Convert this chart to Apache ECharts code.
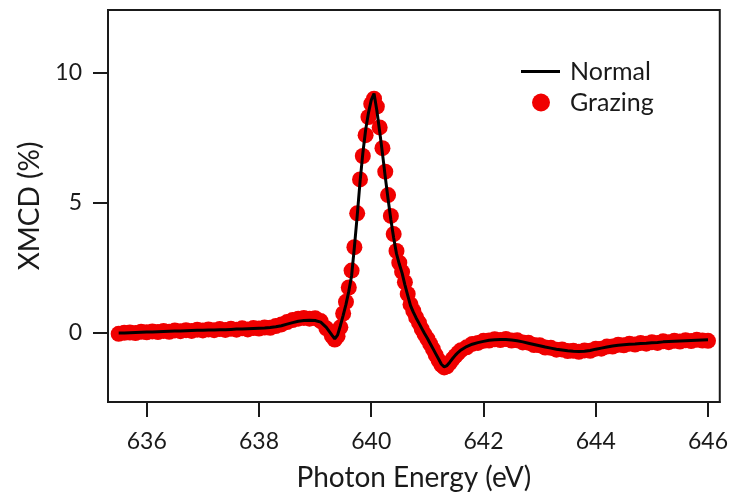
<!DOCTYPE html>
<html>
<head>
<meta charset="utf-8">
<script src="https://cdn.jsdelivr.net/npm/echarts@6/dist/echarts.min.js"></script>
<style>
html,body{margin:0;padding:0;background:#fff;}
#chart{width:731px;height:504px;}
</style>
</head>
<body>
<div id="chart"></div>
<script>
const energy = [
  635.5, 635.6, 635.7, 635.8, 635.9, 636.0, 636.1, 636.2, 636.3, 636.4,
  636.5, 636.6, 636.7, 636.8, 636.9, 637.0, 637.1, 637.2, 637.3, 637.4,
  637.5, 637.6, 637.7, 637.8, 637.9, 638.0, 638.1, 638.2, 638.3, 638.4,
  638.5, 638.6, 638.7, 638.8, 638.9, 639.0, 639.1, 639.2,
  639.3, 639.35, 639.4, 639.45, 639.5, 639.55, 639.6, 639.65, 639.7, 639.75,
  639.8, 639.85, 639.9, 639.95, 640.0, 640.05, 640.1, 640.15, 640.2, 640.25,
  640.3, 640.35, 640.4, 640.45, 640.5, 640.55, 640.6, 640.65, 640.7, 640.75,
  640.8, 640.85, 640.9, 640.95, 641.0, 641.05, 641.1, 641.15, 641.2, 641.25,
  641.3, 641.35, 641.4, 641.45, 641.5, 641.55, 641.6,
  641.7, 641.8, 641.9, 642.0, 642.1, 642.2, 642.3, 642.4, 642.5, 642.6,
  642.7, 642.8, 642.9, 643.0, 643.1, 643.2, 643.3, 643.4, 643.5, 643.6,
  643.7, 643.8, 643.9, 644.0, 644.1, 644.2, 644.3, 644.4, 644.5, 644.6,
  644.7, 644.8, 644.9, 645.0, 645.1, 645.2, 645.3, 645.4, 645.5, 645.6,
  645.7, 645.8, 645.9, 646.0
];
const normal = [
  0.00, 0.00, 0.01, 0.02, 0.03, 0.04, 0.04, 0.05, 0.06, 0.07,
  0.08, 0.08, 0.09, 0.10, 0.11, 0.11, 0.12, 0.12, 0.13, 0.13,
  0.14, 0.15, 0.15, 0.16, 0.17, 0.18, 0.19, 0.21, 0.24, 0.28,
  0.34, 0.40, 0.45, 0.48, 0.49, 0.48, 0.42, 0.22,
  -0.08, -0.22, -0.08, 0.28, 0.68, 1.10, 1.60, 2.20, 3.30, 4.50,
  5.80, 6.90, 7.80, 8.45, 8.95, 9.20, 8.55, 7.75, 6.90, 6.00,
  5.15, 4.35, 3.65, 3.05, 2.65, 2.30, 1.85, 1.45, 1.05, 0.80,
  0.58, 0.38, 0.18, -0.02, -0.20, -0.40, -0.60, -0.80, -1.00, -1.20,
  -1.30, -1.25, -1.12, -0.98, -0.85, -0.74, -0.65,
  -0.52, -0.43, -0.37, -0.32, -0.28, -0.26, -0.25, -0.25, -0.27, -0.30,
  -0.34, -0.39, -0.44, -0.49, -0.54, -0.58, -0.62, -0.65, -0.68, -0.70,
  -0.71, -0.70, -0.67, -0.62, -0.58, -0.54, -0.50, -0.47, -0.45, -0.43,
  -0.42, -0.40, -0.39, -0.37, -0.36, -0.34, -0.33, -0.32, -0.31, -0.30,
  -0.29, -0.28, -0.27, -0.26
];
const grazing = [
  -0.03, 0.01, 0.02, 0.00, 0.05, 0.03, 0.06, 0.04, 0.08, 0.05,
  0.10, 0.07, 0.11, 0.08, 0.13, 0.10, 0.14, 0.11, 0.15, 0.12,
  0.16, 0.13, 0.18, 0.14, 0.19, 0.17, 0.21, 0.20, 0.27, 0.33,
  0.42, 0.50, 0.55, 0.58, 0.55, 0.57, 0.46, 0.18,
  -0.12, -0.25, -0.12, 0.22, 0.75, 1.20, 1.75, 2.40, 3.30, 4.60,
  5.90, 6.80, 7.60, 8.30, 8.80, 9.00, 8.70, 7.90, 7.10, 6.20,
  5.30, 4.50, 3.80, 3.15, 2.70, 2.35, 1.95, 1.50, 1.10, 0.85,
  0.60, 0.40, 0.15, -0.05, -0.22, -0.42, -0.62, -0.85, -1.05, -1.22,
  -1.32, -1.28, -1.15, -1.00, -0.88, -0.76, -0.66,
  -0.55, -0.42, -0.38, -0.30, -0.29, -0.24, -0.27, -0.23, -0.29, -0.28,
  -0.36, -0.37, -0.46, -0.47, -0.56, -0.57, -0.64, -0.63, -0.69, -0.68,
  -0.72, -0.67, -0.68, -0.60, -0.60, -0.52, -0.52, -0.45, -0.47, -0.41,
  -0.44, -0.38, -0.41, -0.35, -0.38, -0.32, -0.35, -0.30, -0.33, -0.28,
  -0.31, -0.26, -0.29, -0.30
];
const xTicks = [636, 638, 640, 642, 644, 646];
const yTicks = [0, 5, 10];
const seriesNames = ['Normal', 'Grazing'];
const xTitle = 'Photon Energy (eV)';
const yTitle = 'XMCD (%)';

const ink = '#1a1a1a';
const font = 'Lato';
const chart = echarts.init(document.getElementById('chart'), null, {renderer: 'canvas'});
const option = {
  animation: false,
  backgroundColor: '#ffffff',
  grid: {left: 108, right: 9, top: 10, bottom: 102, show: true, borderColor: ink, borderWidth: 2, backgroundColor: 'transparent'},
  legend: [
    {data: [seriesNames[0]], left: 521, top: 59, padding: 0, icon: 'rect', itemWidth: 39, itemHeight: 3,
     textStyle: {fontFamily: font, fontSize: 25, color: ink, padding: [0, 0, 0, 5]}},
    {data: [seriesNames[1]], left: 532, top: 90, padding: 0, icon: 'circle', itemWidth: 18, itemHeight: 18,
     textStyle: {fontFamily: font, fontSize: 25, color: ink, padding: [0, 0, 0, 15]}}
  ],
  xAxis: {
    type: 'value', min: 635.31, max: 646.21,
    name: xTitle, nameLocation: 'middle', nameGap: 62,
    nameTextStyle: {fontFamily: font, fontSize: 28, color: ink},
    axisLine: {onZero: false, lineStyle: {color: ink, width: 2}},
    axisTick: {customValues: xTicks, length: 15, lineStyle: {color: ink, width: 2}},
    axisLabel: {customValues: xTicks, margin: 28, fontFamily: font, fontSize: 23, color: ink},
    splitLine: {show: false}
  },
  yAxis: {
    type: 'value', min: -2.65, max: 12.41,
    name: yTitle, nameLocation: 'middle', nameGap: 64, nameRotate: 90,
    nameTextStyle: {fontFamily: font, fontSize: 28, color: ink},
    axisLine: {onZero: false, lineStyle: {color: ink, width: 2}},
    axisTick: {customValues: yTicks, length: 15, lineStyle: {color: ink, width: 2}},
    axisLabel: {customValues: yTicks, margin: 26, fontFamily: font, fontSize: 23, color: ink},
    splitLine: {show: false}
  },
  series: [
    {name: seriesNames[1], type: 'scatter', data: energy.map((e, i) => [e, grazing[i]]),
     symbol: 'circle', symbolSize: 16, itemStyle: {color: '#f00000', opacity: 1}, z: 2},
    {name: seriesNames[0], type: 'line', data: energy.map((e, i) => [e, normal[i]]),
     showSymbol: false, symbol: 'none', lineStyle: {color: '#000000', width: 3}, itemStyle: {color: '#000000'}, z: 3}
  ]
};
chart.setOption(option);
</script>
</body>
</html>
